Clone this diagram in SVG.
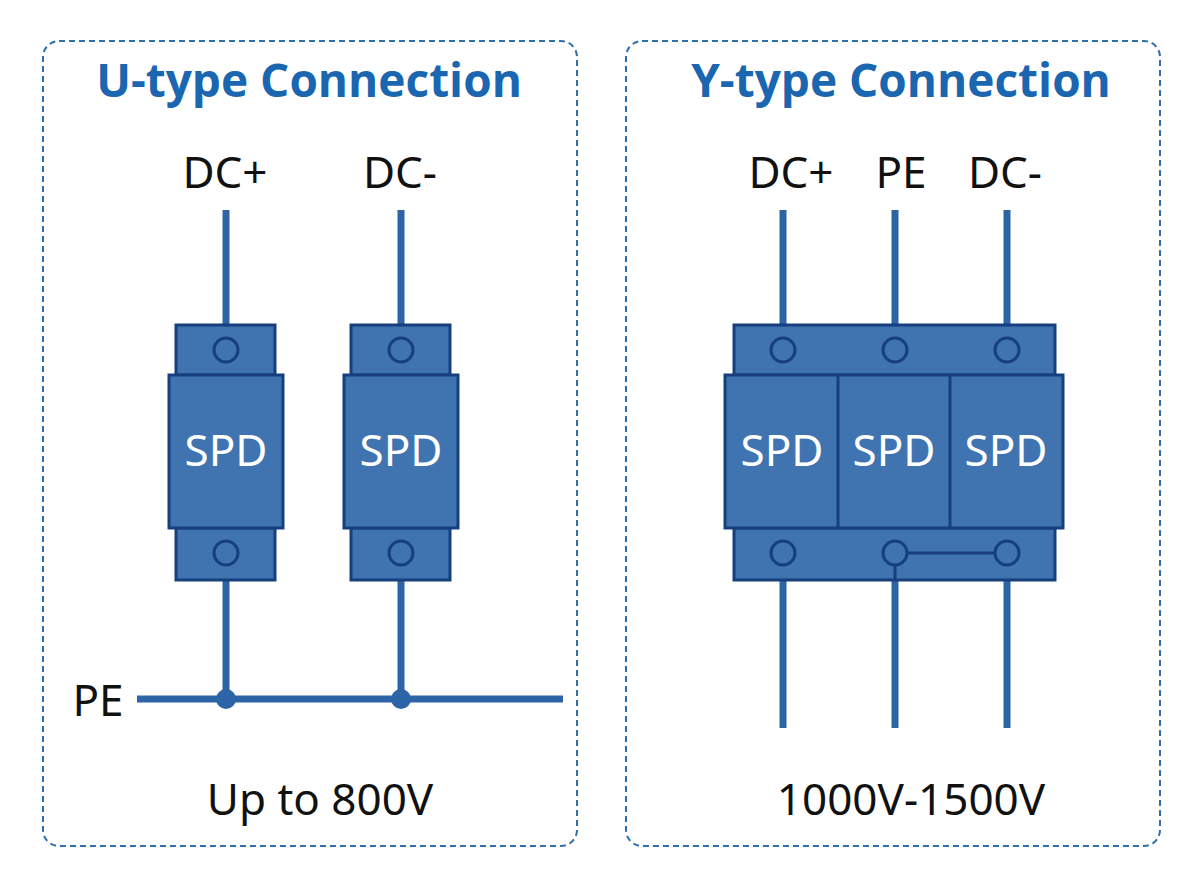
<svg xmlns="http://www.w3.org/2000/svg" width="1200" height="892" viewBox="0 0 1200 892">
<style>
.panel{fill:#fff;stroke:#2f6fb0;stroke-width:2;stroke-dasharray:6 4}
.title{font-family:"Open Sans","Noto Sans",sans-serif;font-weight:bold;font-size:46px;fill:#1a66b0;text-anchor:middle}
.lbl{font-family:"Noto Sans","Open Sans",sans-serif;font-size:44px;fill:#111;text-anchor:middle}
.box{fill:#3f74b1;stroke:#173f7e;stroke-width:3}
.spd{font-family:"Noto Sans","Open Sans",sans-serif;font-size:44px;fill:#fff;text-anchor:middle}
.hole{fill:none;stroke:#173f7e;stroke-width:3}
.wire{stroke:#2d64a8;stroke-width:7;fill:none}
</style>
<rect width="1200" height="892" fill="#fff"/>
<rect class="panel" x="43" y="41" width="534" height="805" rx="16"/>
<rect class="panel" x="626" y="41" width="534" height="805" rx="16"/>
<text class="title" x="309" y="97">U-type Connection</text>
<text class="title" x="901" y="97">Y-type Connection</text>
<g id="connectors">
<path class="wire" d="M226 210V325M401 210V325M226 580V699M401 580V699M137 699H563"/>
<circle cx="226" cy="699" r="10" fill="#2d64a8"/>
<circle cx="401" cy="699" r="10" fill="#2d64a8"/>
<path class="wire" d="M783 210V325M895 210V325M1007 210V325M783 580V728M895 580V728M1007 580V728"/>
</g>
<g id="labels">
<text class="lbl" x="225" y="188">DC+</text>
<text class="lbl" x="400" y="188">DC-</text>
<text class="lbl" x="98" y="716">PE</text>
<text class="lbl" x="320" y="815">Up to 800V</text>
<text class="lbl" x="791" y="188">DC+</text>
<text class="lbl" x="901" y="188">PE</text>
<text class="lbl" x="1005" y="188">DC-</text>
<text class="lbl" x="911" y="815">1000V-1500V</text>
</g>
<g id="spd1">
<rect class="box" x="176" y="325" width="99" height="50"/>
<rect class="box" x="176" y="528" width="99" height="52"/>
<rect class="box" x="169" y="375" width="114" height="153"/>
<circle class="hole" cx="226" cy="350" r="12"/>
<circle class="hole" cx="226" cy="553" r="12"/>
<text class="spd" x="226" y="466">SPD</text>
</g>
<g id="spd2">
<rect class="box" x="351" y="325" width="99" height="50"/>
<rect class="box" x="351" y="528" width="99" height="52"/>
<rect class="box" x="344" y="375" width="114" height="153"/>
<circle class="hole" cx="401" cy="350" r="12"/>
<circle class="hole" cx="401" cy="553" r="12"/>
<text class="spd" x="401" y="466">SPD</text>
</g>
<g id="spd3">
<rect class="box" x="734" y="325" width="321" height="50"/>
<rect class="box" x="734" y="528" width="321" height="52"/>
<rect class="box" x="725" y="375" width="338" height="153"/>
<path d="M838 375V528M950 375V528" stroke="#173f7e" stroke-width="3"/>
<circle class="hole" cx="783" cy="350" r="12"/>
<circle class="hole" cx="895" cy="350" r="12"/>
<circle class="hole" cx="1007" cy="350" r="12"/>
<circle class="hole" cx="783" cy="553" r="12"/>
<circle class="hole" cx="895" cy="553" r="12"/>
<circle class="hole" cx="1007" cy="553" r="12"/>
<path d="M907 553H995M895 565V580" stroke="#173f7e" stroke-width="3"/>
<text class="spd" x="782" y="466">SPD</text>
<text class="spd" x="894" y="466">SPD</text>
<text class="spd" x="1006" y="466">SPD</text>
</g>
</svg>
